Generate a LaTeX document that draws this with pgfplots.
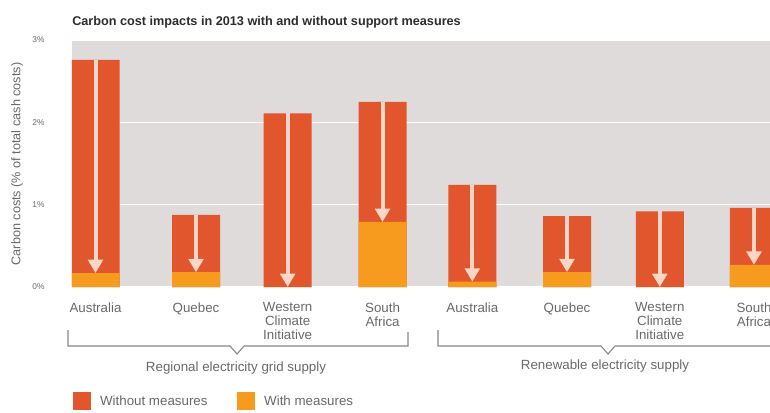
\documentclass[border=0pt]{standalone}
\usepackage{fontspec}
\setmainfont{Liberation Sans}
\usepackage{pgfplots}
\usepackage{pgfplotstable}
\pgfplotsset{compat=1.18}
\usetikzlibrary{arrows.meta}
\definecolor{redc}{RGB}{225,86,45}
\definecolor{orangec}{RGB}{246,155,30}
\definecolor{bgc}{RGB}{222,219,218}
\definecolor{arrowc}{RGB}{250,214,198}
\definecolor{txtc}{RGB}{105,105,105}
\definecolor{titlec}{RGB}{45,45,45}
\definecolor{brc}{RGB}{135,135,135}
\pgfplotstableread{
x top with
0 2.76 0.17
1.067 0.875 0.18
2.04 2.11 0
3.047 2.25 0.79
4.0 1.24 0.065
5.005 0.86 0.18
5.99 0.92 0
6.99 0.96 0.27
}\data
\begin{document}
\begin{tikzpicture}
\begin{axis}[
 at={(54pt,93.75pt)}, anchor=south west,
 scale only axis, width=523.5pt, height=185.25pt,
 xmin=-0.2495, xmax=7.16, ymin=0, ymax=3,
 axis background/.style={fill=bgc},
 axis line style={draw=none},
 major tick length=0pt,
 ytick={0,1,2,3}, yticklabels={0\%,1\%,2\%,3\%},
 yticklabel style={font=\fontsize{6.3}{7}\selectfont, text=txtc, xshift=-17pt},
 ymajorgrids, grid style={white, line width=1.2pt},
 xtick={0,1.067,2.04,3.047,4,5.005,5.99,6.99},
 xticklabels={Australia, Quebec, Western\\Climate\\Initiative, South\\Africa, Australia, Quebec, Western\\Climate\\Initiative, South\\Africa},
 xticklabel style={font=\fontsize{10}{10.5}\selectfont, text=txtc, align=center, yshift=-8pt},
 ylabel={Carbon costs (\% of total cash costs)},
 ylabel style={at={(axis description cs:-0.0788,0.498)}, anchor=center, font=\fontsize{9.5}{10}\selectfont, text=txtc},
 legend style={at={(axis description cs:-0.005,-0.415)}, anchor=north west, draw=none, fill=none, legend columns=2, font=\fontsize{10}{11}\selectfont, text=txtc, /tikz/every even column/.append style={column sep=20pt}},
]
\addplot[ybar, bar width=36pt, bar shift=0pt, fill=redc, draw=none,
  legend image code/.code={\fill[redc] (0pt,-6.75pt) rectangle (13.5pt,6.75pt); \path (18.5pt,0pt);}]
  table[x=x, y=top] {\data};
\addlegendentry{Without measures}
\addplot[ybar, bar width=36pt, bar shift=0pt, fill=orangec, draw=none,
  legend image code/.code={\fill[orangec] (0pt,-6.75pt) rectangle (13.5pt,6.75pt); \path (18.5pt,0pt);}]
  table[x=x, y=with] {\data};
\addlegendentry{With measures}
\addplot[forget plot, draw=arrowc, line width=3pt,
  -{Triangle[width=11pt,length=10pt]},
  quiver={u=0, v=\thisrow{with}-\thisrow{top}}]
  table[x=x, y=top] {\data};
\end{axis}
\begin{scope}[x=0.75pt, y=-0.75pt, yshift=309pt]
\node[anchor=west, inner sep=0pt, text=titlec, font=\fontsize{9.5}{10}\selectfont\bfseries] at (72,22) {Carbon cost impacts in 2013 with and without support measures};
\draw[brc, line width=0.8pt] (68,330) -- (68,346) -- (230,346) -- (237,354) -- (244,346) -- (408,346) -- (408,332);
\draw[brc, line width=0.8pt] (438,330) -- (438,346) -- (601,346) -- (608,354) -- (615,346) -- (775,346);
\node[text=txtc, font=\fontsize{10}{11}\selectfont] at (236,368) {Regional electricity grid supply};
\node[text=txtc, font=\fontsize{10}{11}\selectfont] at (605,366) {Renewable electricity supply};
\pgfresetboundingbox
\useasboundingbox (0,0) rectangle (770,412);
\end{scope}
\end{tikzpicture}
\end{document}
